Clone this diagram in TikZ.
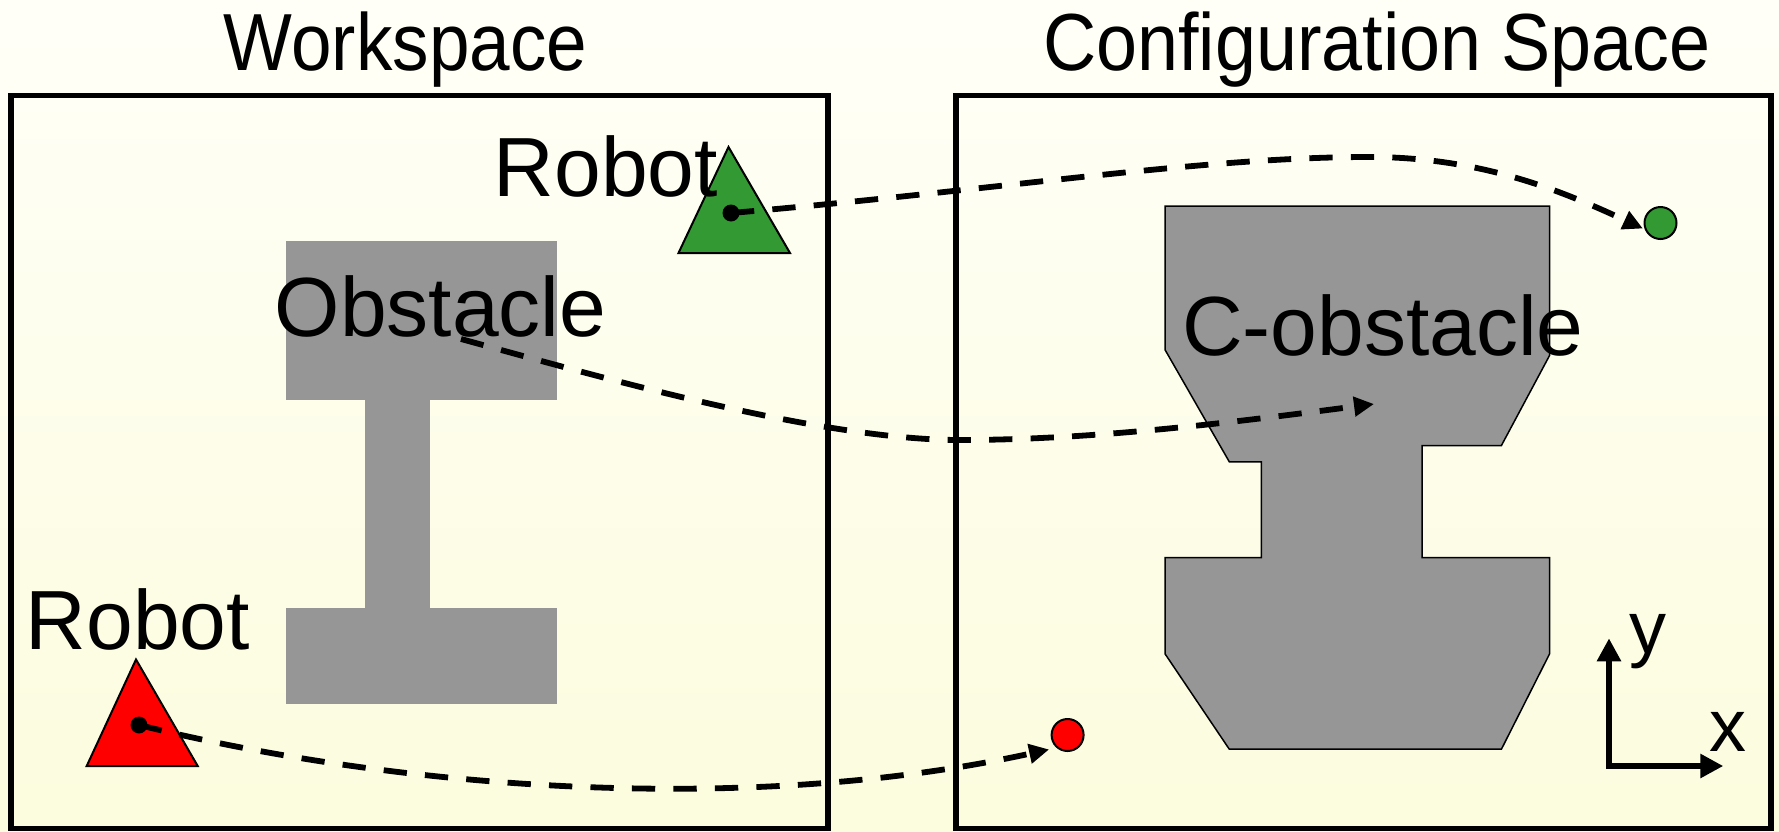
\documentclass[tikz,border=0pt]{standalone}
\usepackage{fontspec}
\setmainfont{Liberation Sans}
\usetikzlibrary{arrows.meta}
\definecolor{bgtop}{RGB}{255,255,248}
\definecolor{bgbot}{RGB}{252,252,222}
\definecolor{obgray}{RGB}{150,150,150}
\definecolor{rgreen}{RGB}{51,153,51}
\definecolor{rred}{RGB}{255,0,0}
\begin{document}
\begin{tikzpicture}[x=0.5pt,y=-0.5pt,
  panel/.style={draw=black,line width=2.85pt},
  titletext/.style={anchor=base,inner sep=0pt,font=\fontsize{40.5pt}{48pt}\selectfont},
  bigtext/.style={anchor=base,inner sep=0pt,font=\fontsize{42pt}{50pt}\selectfont},
  axtext/.style={anchor=base,inner sep=0pt,font=\fontsize{37pt}{44pt}\selectfont},
  obst/.style={fill=obgray},
  cobst/.style={fill=obgray,draw=black,line width=0.75pt,line join=miter},
  robotshape/.style={draw=black,line width=1pt,line join=miter},
  refdot/.style={circle,fill=black,inner sep=0pt,minimum size=8.5pt},
  cpoint/.style={circle,draw=black,line width=1pt,inner sep=0pt,minimum size=16pt},
  motion/.style={draw=black,line width=2.9pt,dash pattern=on 11.65pt off 9.1pt,
    -{Triangle[length=10pt,width=9.5pt]}},
  axis/.style={draw=black,line width=3pt,line join=miter,
    {Triangle[length=11.5pt,width=11.5pt]}-{Triangle[length=11.5pt,width=11.5pt]}}
]
\useasboundingbox (0,0) rectangle (1779,831);
\shade[top color=bgtop,bottom color=bgbot] (0,0) rectangle (1779,831);

% titles
\node[titletext] (wst) at (405.5,70) {\scalebox{0.9}[1]{Workspace}};
\node[titletext] (cst) at (1377,70) {\scalebox{0.91}[1]{Configuration Space}};

% panels
\draw[panel] (10.7,95.5) rectangle (828,828.5);
\draw[panel] (956,95.5) rectangle (1771,828.5);

% workspace obstacle
\fill[obst] (285.5,240.5) rectangle (557,399.5);
\fill[obst] (365,399) rectangle (429.5,608.5);
\fill[obst] (285.5,608) rectangle (557,703.5);

% C-obstacle
\draw[cobst] (1165,206) -- (1549.6,206) -- (1549.6,355.4) -- (1501.4,445.5)
  -- (1422.1,445.5) -- (1422.1,557.6) -- (1549.6,557.6) -- (1549.6,653.8)
  -- (1501.4,749.2) -- (1229.3,749.2) -- (1165,653.8) -- (1165,557.6)
  -- (1261.4,557.6) -- (1261.4,461.8) -- (1229.3,461.8) -- (1165,349.7) -- cycle;

% robots
\draw[robotshape,fill=rgreen] (728.5,147) -- (790,253) -- (678.5,253) -- cycle;
\draw[robotshape,fill=rred] (136,659.5) -- (197.7,766) -- (86.7,766) -- cycle;

% labels
\node[bigtext] (rtop) at (606,196) {Robot};
\node[bigtext] (rbot) at (138,649) {Robot};
\node[bigtext] (obl) at (440.5,336) {Obstacle};
\node[bigtext] (cobl) at (1383,355) {C-obstacle};

% reference dots and C-space points
\node[refdot] (gr) at (731,213) {};
\node[refdot] (rr) at (139,725) {};
\node[cpoint,fill=rgreen] (gdot) at (1660.5,223) {};
\node[cpoint,fill=rred] (rdot) at (1067.6,735) {};

% motion curves
\coordinate (gpeak) at (1369,157);
\draw[motion,shorten >=1pt] (gr.center) .. controls (1000,190) and (1200,157) .. (gpeak)
  .. controls (1480,157) and (1560,190) .. (gdot.202);
\coordinate (ostart) at (461,339);
\coordinate (olow) at (960,440);
\coordinate (cend) at (1374,404);
\draw[motion] (ostart) .. controls (600,377) and (820,440) .. (olow)
  .. controls (1100,440) and (1250,420) .. (cend);
\draw[motion,shorten >=3.75pt] (rr.center) .. controls (400,790) and (750,815) .. (rdot.229);

% axes
\coordinate (ao) at (1609,766);
\coordinate (ay) at (1609,638.3);
\coordinate (ax) at (1723.3,766);
\draw[axis] (ay) -- (ao) -- (ax);
\node[axtext] (ylab) at (1648,653) {y};
\node[axtext] (xlab) at (1728,751.7) {x};
\end{tikzpicture}
\end{document}
